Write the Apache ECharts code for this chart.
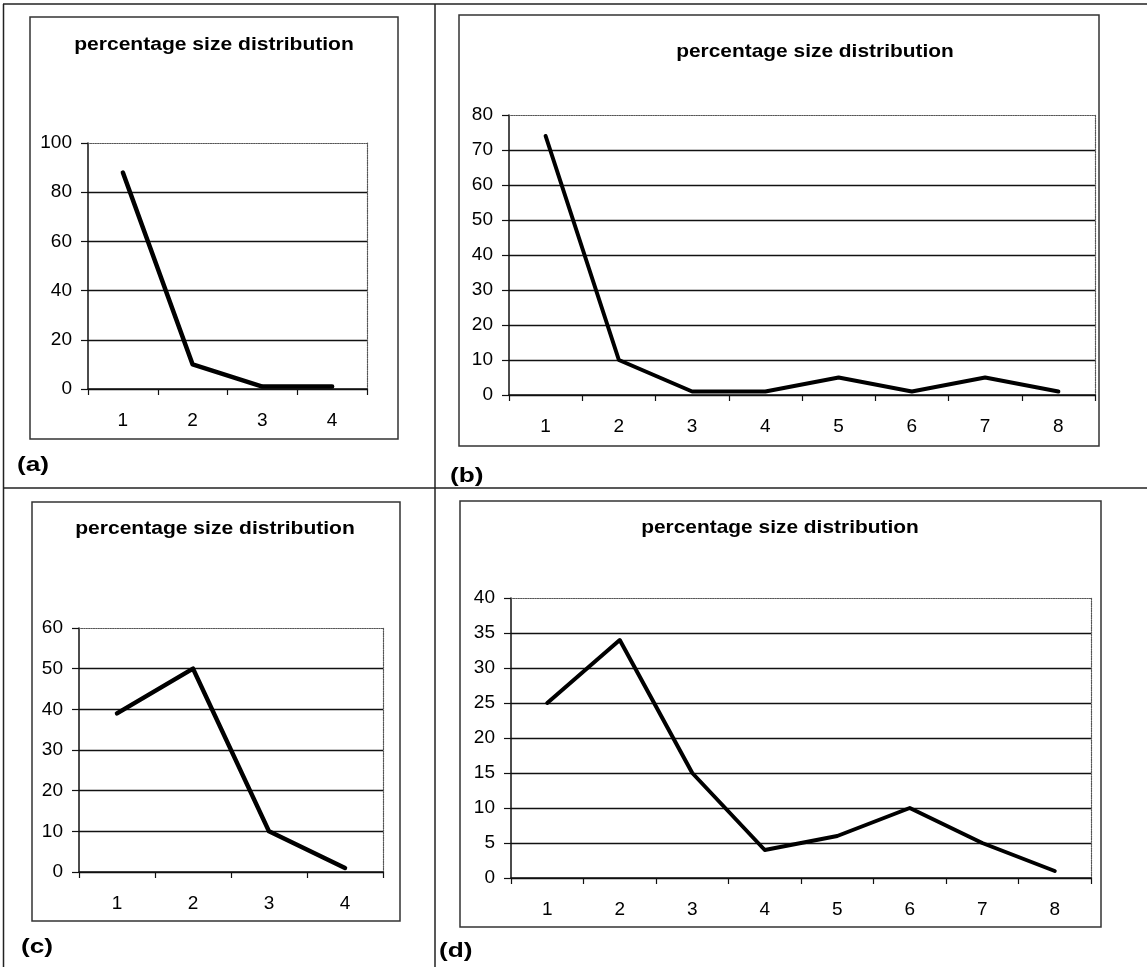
<!DOCTYPE html>
<html>
<head>
<meta charset="utf-8">
<script src="https://cdn.jsdelivr.net/npm/echarts@6/dist/echarts.min.js"></script>
<style>
html,body{margin:0;padding:0;background:#fff;}
#main{width:1147px;height:967px;}
</style>
</head>
<body>
<div id="main"></div>
<script>
// ---- data ----
const titleText = 'percentage size distribution';
const panelLabels = ['(a)', '(b)', '(c)', '(d)'];
const catsA = ['1', '2', '3', '4'];
const valsA = [88, 10, 1, 1];
const catsB = ['1', '2', '3', '4', '5', '6', '7', '8'];
const valsB = [74, 10, 1, 1, 5, 1, 5, 1];
const catsC = ['1', '2', '3', '4'];
const valsC = [39, 50, 10, 1];
const catsD = ['1', '2', '3', '4', '5', '6', '7', '8'];
const valsD = [25, 34, 15, 4, 6, 10, 5, 1];
const yMax = [100, 80, 60, 40];
const yStep = [20, 10, 10, 5];

// ---- layout ----
const FONT = '"Liberation Sans", Arial, sans-serif';
const grids = [
  {left: 88, top: 143, width: 279, height: 246},
  {left: 509, top: 115, width: 586, height: 280},
  {left: 79, top: 628, width: 304, height: 244},
  {left: 511, top: 598, width: 580, height: 280}
];
const boxes = [
  {x: 30, y: 17, width: 368, height: 422},
  {x: 459, y: 15, width: 640, height: 431},
  {x: 32, y: 502, width: 368, height: 419},
  {x: 460, y: 501, width: 641, height: 426}
];
const titlePos = [
  {x: 214, y: 45, size: 18, sx: 1.17},
  {x: 815, y: 52, size: 19, sx: 1.1},
  {x: 215, y: 529, size: 18, sx: 1.17},
  {x: 780, y: 528, size: 19, sx: 1.1}
];
const labelPos = [
  {x: 17, y: 465}, {x: 450, y: 476}, {x: 21, y: 947}, {x: 439, y: 951}
];

const cats = [catsA, catsB, catsC, catsD];
const vals = [valsA, valsB, valsC, valsD];

const xAxes = [], yAxes = [], series = [];
for (let i = 0; i < 4; i++) {
  const nTicks = yMax[i] / yStep[i] + 1;
  const splitColors = [];
  for (let k = 0; k < nTicks; k++) splitColors.push(k === nTicks - 1 ? 'rgba(0,0,0,0)' : '#111');
  xAxes.push({
    gridIndex: i, type: 'category', data: cats[i], boundaryGap: true, position: 'bottom',
    axisLine: {show: true, onZero: false, lineStyle: {color: '#111', width: 1.5}},
    axisTick: {show: true, length: 6, lineStyle: {color: '#111', width: 1.2}},
    axisLabel: {color: '#000', fontSize: 19, fontFamily: FONT, margin: 22},
    splitLine: {show: false}
  });
  xAxes.push({
    gridIndex: i, type: 'category', data: cats[i], position: 'top',
    axisLine: {show: true, onZero: false, lineStyle: {color: '#555', width: 1.2, type: 'dotted'}},
    axisTick: {show: false}, axisLabel: {show: false}, splitLine: {show: false}
  });
  yAxes.push({
    gridIndex: i, type: 'value', min: 0, max: yMax[i], interval: yStep[i], position: 'left',
    axisLine: {show: true, onZero: false, lineStyle: {color: '#111', width: 1.5}},
    axisTick: {show: true, length: 7, lineStyle: {color: '#111', width: 1.2}},
    axisLabel: {color: '#000', fontSize: 19, fontFamily: FONT, margin: 16},
    splitLine: {show: true, lineStyle: {color: splitColors, width: 1.3}}
  });
  yAxes.push({
    gridIndex: i, type: 'value', min: 0, max: yMax[i], interval: yStep[i], position: 'right',
    axisLine: {show: true, onZero: false, lineStyle: {color: '#555', width: 1.2, type: 'dotted'}},
    axisTick: {show: false}, axisLabel: {show: false}, splitLine: {show: false}
  });
  series.push({
    type: 'line', xAxisIndex: 2 * i, yAxisIndex: 2 * i, data: vals[i],
    symbol: 'none', smooth: false, silent: true,
    lineStyle: {color: '#000', width: i % 2 === 0 ? 4.5 : 4, join: 'round', cap: 'round'}
  });
}

const graphic = [];
// outer frame lines
const frameStyle = {stroke: '#222', lineWidth: 1.5};
graphic.push({type: 'line', shape: {x1: 3.5, y1: 4, x2: 3.5, y2: 967}, style: frameStyle, z: 1});
graphic.push({type: 'line', shape: {x1: 3, y1: 4, x2: 1147, y2: 4}, style: frameStyle, z: 1});
graphic.push({type: 'line', shape: {x1: 435, y1: 4, x2: 435, y2: 967}, style: frameStyle, z: 1});
graphic.push({type: 'line', shape: {x1: 3, y1: 488, x2: 1147, y2: 488}, style: frameStyle, z: 1});
for (let i = 0; i < 4; i++) {
  graphic.push({type: 'rect', shape: boxes[i], style: {fill: 'none', stroke: '#333', lineWidth: 1.5}, z: 1});
  graphic.push({
    type: 'text', x: titlePos[i].x, y: titlePos[i].y, scaleX: titlePos[i].sx, z: 5,
    style: {text: titleText, fill: '#000', font: 'bold ' + titlePos[i].size + 'px ' + FONT,
            textAlign: 'center', textVerticalAlign: 'middle'}
  });
  graphic.push({
    type: 'text', x: labelPos[i].x, y: labelPos[i].y, scaleX: 1.25, z: 5,
    style: {text: panelLabels[i], fill: '#000', font: 'bold 21px ' + FONT,
            textAlign: 'left', textVerticalAlign: 'middle'}
  });
}

const chart = echarts.init(document.getElementById('main'), null, {renderer: 'canvas'});
chart.setOption({
  backgroundColor: '#fff',
  animation: false,
  grid: grids.map(g => Object.assign({containLabel: false}, g)),
  xAxis: xAxes,
  yAxis: yAxes,
  series: series,
  graphic: graphic
});
</script>
</body>
</html>
